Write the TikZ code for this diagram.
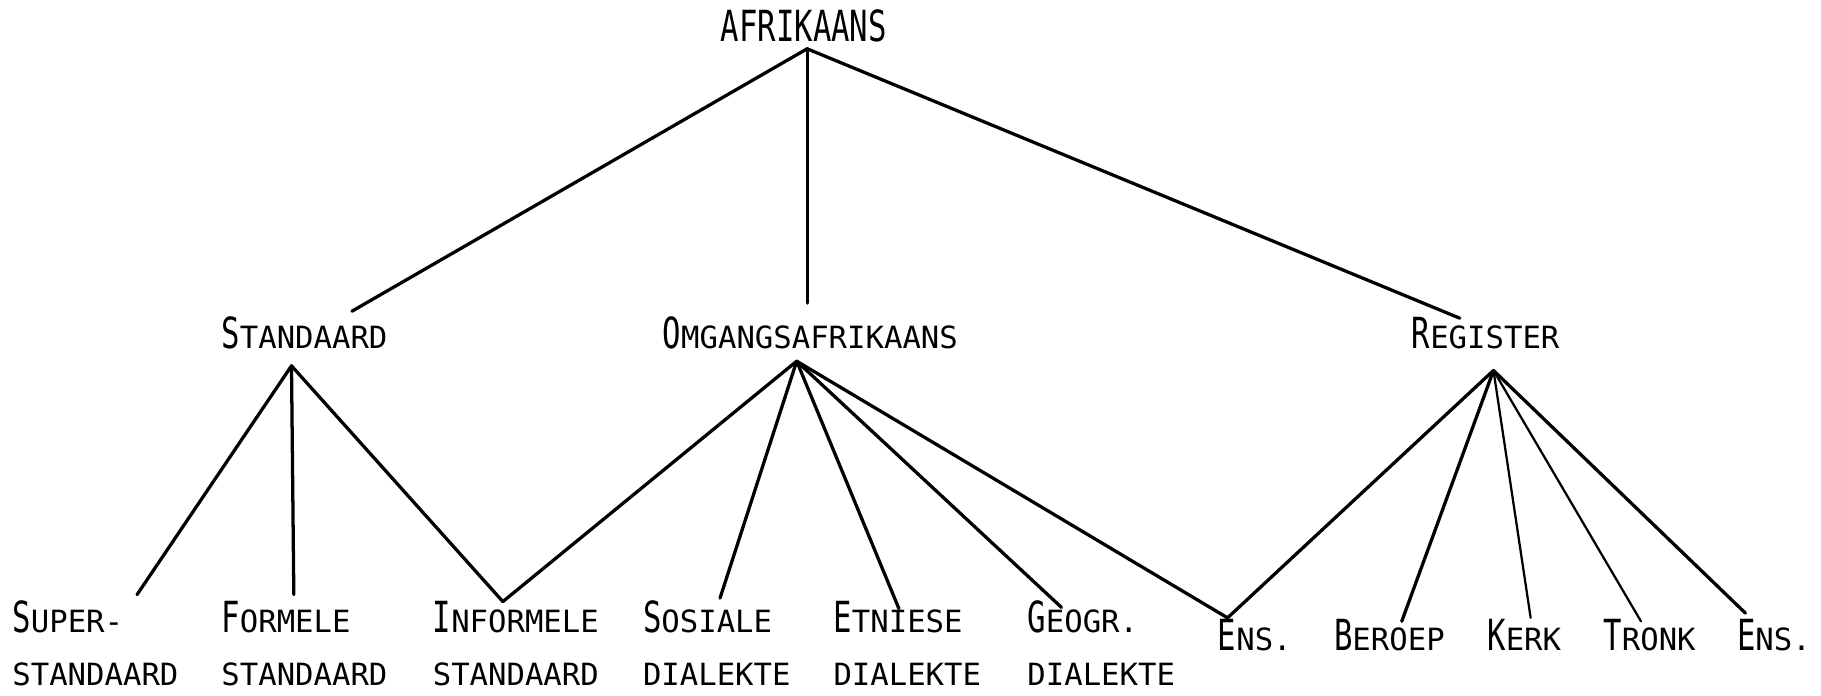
\documentclass[tikz,border=0pt]{standalone}
\usepackage{fontspec}
\usepackage{graphicx}
\setmonofont{DejaVu Sans Mono}
\usetikzlibrary{positioning}
\newcommand\tallcap[1]{\scalebox{1}[1.4]{#1}}

\begin{document}
\begin{tikzpicture}[x=0.01cm, y=-0.01cm,
    lbl/.style={anchor=base west, inner sep=0pt, align=left, font={\ttfamily\fontsize{7.5}{12.8}\selectfont}},
    branch/.style={line width=0.8pt, line cap=round},
    thinbranch/.style={line width=0.55pt, line cap=round}]

    \useasboundingbox (0,0) rectangle (1568,599);

    % labels
    \node[lbl] (afr) at (620,36) {\tallcap{AFRIKAANS}};
    \node[lbl] (std) at (190,300) {\tallcap{S}TANDAARD};
    \node[lbl] (omg) at (570,300) {\tallcap{O}MGANGSAFRIKAANS};
    \node[lbl] (reg) at (1215,300) {\tallcap{R}EGISTER};

    \node[lbl] (super) at (10,590) {\tallcap{S}UPER-\\STANDAARD};
    \node[lbl] (formele) at (190,590) {\tallcap{F}ORMELE\\STANDAARD};
    \node[lbl] (informele) at (372,590) {\tallcap{I}NFORMELE\\STANDAARD};
    \node[lbl] (sosiale) at (553,590) {\tallcap{S}OSIALE\\DIALEKTE};
    \node[lbl] (etniese) at (717,590) {\tallcap{E}TNIESE\\DIALEKTE};
    \node[lbl] (geogr) at (884,590) {\tallcap{G}EOGR.\\DIALEKTE};
    \node[lbl] (ensa) at (1048,560) {\tallcap{E}NS.};
    \node[lbl] (beroep) at (1148,560) {\tallcap{B}EROEP};
    \node[lbl] (kerk) at (1280,560) {\tallcap{K}ERK};
    \node[lbl] (tronk) at (1380,560) {\tallcap{T}RONK};
    \node[lbl] (ensb) at (1495,560) {\tallcap{E}NS.};

    % tips of the branches
    \coordinate (afrtip) at (695,42);
    \coordinate (stdtop) at (303,268);
    \coordinate (omgtop) at (695,261);
    \coordinate (regtop) at (1257,274);
    \coordinate (stdtip) at (251,315);
    \coordinate (omgtip) at (686,311);
    \coordinate (regtip) at (1286,319);
    \coordinate (supertip) at (118,512);
    \coordinate (formeletip) at (253,512);
    \coordinate (informeletip) at (433,518);
    \coordinate (sosialetip) at (620,515);
    \coordinate (etniesetip) at (774,524);
    \coordinate (geogrtip) at (914,523);
    \coordinate (ensatip) at (1057,532);
    \coordinate (beroeptip) at (1207,535);
    \coordinate (kerktip) at (1318,532);
    \coordinate (tronktip) at (1413,535);
    \coordinate (ensbtip) at (1503,528);

    \draw[branch] (afrtip) -- (stdtop);
    \draw[branch] (afrtip) -- (omgtop);
    \draw[branch] (afrtip) -- (regtop);

    \draw[branch] (stdtip) -- (supertip);
    \draw[branch] (stdtip) -- (formeletip);
    \draw[branch] (stdtip) -- (informeletip);

    \draw[branch] (omgtip) -- (informeletip);
    \draw[branch] (omgtip) -- (sosialetip);
    \draw[branch] (omgtip) -- (etniesetip);
    \draw[branch] (omgtip) -- (geogrtip);
    \draw[branch] (omgtip) -- (ensatip);

    \draw[branch] (regtip) -- (ensatip);
    \draw[branch] (regtip) -- (beroeptip);
    \draw[thinbranch] (regtip) -- (kerktip);
    \draw[thinbranch] (regtip) -- (tronktip);
    \draw[branch] (regtip) -- (ensbtip);
\end{tikzpicture}
\end{document}
